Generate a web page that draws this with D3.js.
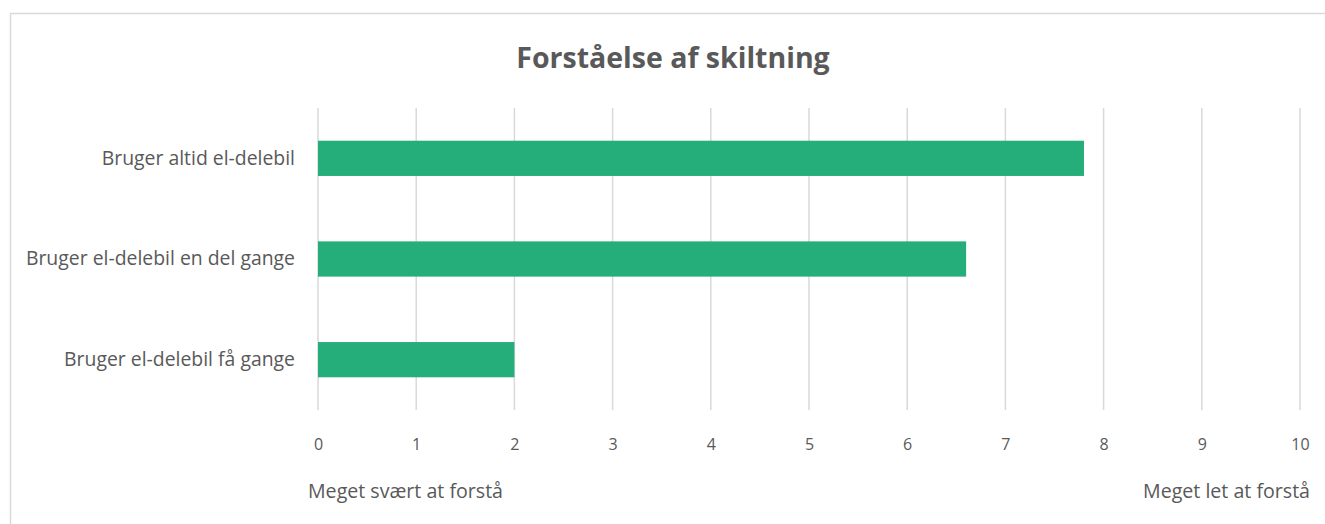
<!DOCTYPE html>
<html lang="da">
<head>
<meta charset="UTF-8">
<script src="https://d3js.org/d3.v7.min.js"></script>
<title>Forståelse af skiltning</title>
<style>
  body { margin: 0; background: #fff; }
  text { font-family: "Open Sans", "Noto Sans", sans-serif; fill: #595959; }
</style>
</head>
<body>
<svg id="chart" width="1325" height="524"></svg>
<script>
// data
const categories = ["Bruger altid el-delebil", "Bruger el-delebil en del gange", "Bruger el-delebil få gange"];
const values = [7.8, 6.6, 2.0];
const tickValues = [0, 1, 2, 3, 4, 5, 6, 7, 8, 9, 10];
const title = "Forståelse af skiltning";
const lowLabel = "Meget svært at forstå";
const highLabel = "Meget let at forstå";

const svg = d3.select("#chart");
const margin = {top: 108, left: 318, right: 25, bottom: 114};
const width = 1325, height = 524;

// outer frame
svg.append("rect")
  .attr("x", 10.5).attr("y", 13.5)
  .attr("width", 1330).attr("height", 530)
  .attr("fill", "none").attr("stroke", "#d9d9d9").attr("stroke-width", 1.5);

const x = d3.scaleLinear().domain([0, 10]).range([margin.left, 1300]);
const y = d3.scaleBand().domain(categories).range([margin.top, 410]).paddingInner(0.65).paddingOuter(0.325);

// gridlines
svg.append("g").selectAll("line")
  .data(tickValues)
  .join("line")
  .attr("x1", d => x(d)).attr("x2", d => x(d))
  .attr("y1", margin.top).attr("y2", 410)
  .attr("stroke", "#d9d9d9").attr("stroke-width", 1.5);

// bars
svg.append("g").selectAll("rect")
  .data(values)
  .join("rect")
  .attr("x", x(0))
  .attr("y", (d, i) => y(categories[i]))
  .attr("width", d => x(d) - x(0))
  .attr("height", y.bandwidth())
  .attr("fill", "#25ad7a");

// x axis
const xAxis = svg.append("g")
  .attr("transform", "translate(0,410)")
  .call(d3.axisBottom(x).tickValues(tickValues).tickSize(0).tickPadding(29));
xAxis.select(".domain").remove();
xAxis.selectAll("text").style("font-size", "16px").style("font-family", "'Open Sans', sans-serif").attr("fill", "#595959");

// y axis
const yAxis = svg.append("g")
  .attr("transform", "translate(" + (margin.left - 23) + ",0)")
  .call(d3.axisLeft(y).tickSize(0).tickPadding(0));
yAxis.select(".domain").remove();
yAxis.selectAll("text").style("font-size", "19.4px").style("font-family", "'Open Sans', sans-serif").attr("fill", "#595959");

// title
svg.append("text")
  .attr("x", 673).attr("y", 68)
  .attr("text-anchor", "middle")
  .style("font-size", "28.5px").style("font-weight", "bold")
  .text(title);

// end labels
svg.append("text")
  .attr("x", 308).attr("y", 498)
  .style("font-size", "19.6px")
  .text(lowLabel);
svg.append("text")
  .attr("x", 1310).attr("y", 498)
  .attr("text-anchor", "end")
  .style("font-size", "19.6px")
  .text(highLabel);
</script>
</body>
</html>
